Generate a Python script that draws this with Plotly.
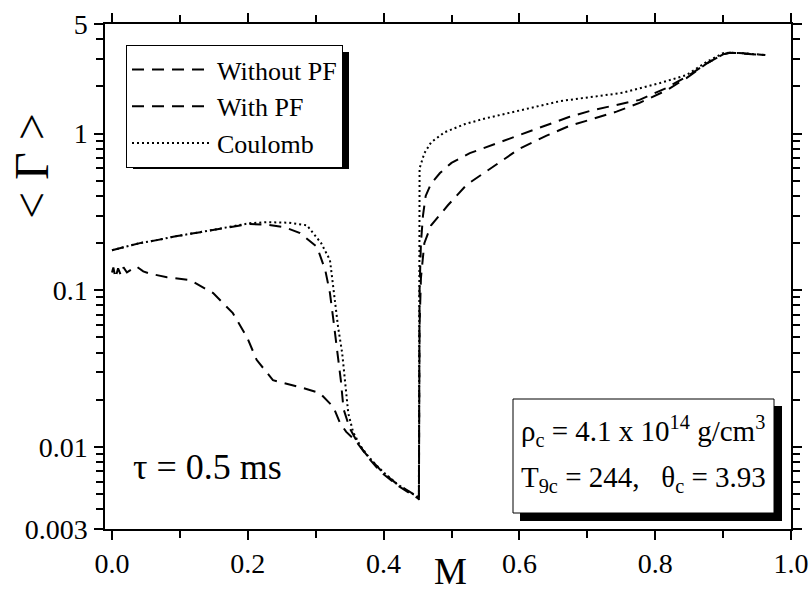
import plotly.graph_objects as go

# ---------------- data ----------------
# Series overlapping Coulomb at low M (upper dashed on the left)
x_without = [0.0, 0.016, 0.041, 0.066, 0.096, 0.13, 0.165, 0.203, 0.228, 0.255, 0.277, 0.302,
             0.314, 0.321, 0.326, 0.331, 0.337, 0.341, 0.35, 0.36, 0.37, 0.38, 0.39, 0.40, 0.42,
             0.44, 0.451, 0.452, 0.453, 0.455, 0.458, 0.462, 0.47, 0.483, 0.50, 0.527, 0.571,
             0.60, 0.674, 0.708, 0.777, 0.816, 0.85, 0.876, 0.90, 0.91, 0.93, 0.962]
y_without = [0.18, 0.188, 0.20, 0.209, 0.222, 0.235, 0.25, 0.265, 0.262, 0.252, 0.232, 0.189,
             0.135, 0.096, 0.065, 0.0435, 0.0267, 0.0175, 0.0132, 0.011, 0.0095, 0.0084, 0.0075,
             0.0068, 0.0058, 0.0051, 0.0048, 0.0047, 0.1, 0.2, 0.3, 0.4, 0.48, 0.56, 0.65, 0.75,
             0.88, 0.97, 1.28, 1.41, 1.64, 1.95, 2.36, 2.8, 3.2, 3.28, 3.25, 3.17]

# Series dropping early at low M (lower dashed on the left)
x_with = [0.0, 0.002, 0.005, 0.009, 0.013, 0.017, 0.022, 0.029, 0.036, 0.046, 0.055, 0.081,
          0.115, 0.149, 0.178, 0.199, 0.213, 0.237, 0.277, 0.306, 0.326, 0.336, 0.345, 0.36,
          0.37, 0.38, 0.39, 0.40, 0.42, 0.44, 0.451, 0.452, 0.453, 0.455, 0.46, 0.47, 0.495,
          0.522, 0.55, 0.60, 0.64, 0.674, 0.708, 0.743, 0.777, 0.816, 0.846, 0.876, 0.90,
          0.91, 0.93, 0.962]
y_with = [0.13, 0.14, 0.12, 0.138, 0.125, 0.14, 0.13, 0.136, 0.142, 0.132, 0.128, 0.121,
          0.116, 0.096, 0.0715, 0.050, 0.036, 0.0267, 0.0241, 0.0221, 0.018, 0.0142, 0.0125,
          0.0108, 0.0094, 0.0083, 0.0074, 0.0067, 0.0057, 0.005, 0.0047, 0.0046, 0.06, 0.12,
          0.2, 0.26, 0.35, 0.47, 0.57, 0.8, 0.97, 1.12, 1.24, 1.38, 1.57, 1.88, 2.26, 2.8,
          3.2, 3.28, 3.25, 3.17]

# Coulomb (dotted)
x_coul = [0.0, 0.016, 0.041, 0.066, 0.096, 0.13, 0.165, 0.203, 0.228, 0.26, 0.287, 0.296,
          0.308, 0.321, 0.328, 0.333, 0.339, 0.343, 0.348, 0.355, 0.365, 0.375, 0.385, 0.40,
          0.42, 0.44, 0.451, 0.452, 0.453, 0.46, 0.47, 0.49, 0.52, 0.55, 0.60, 0.66, 0.752,
          0.807, 0.846, 0.876, 0.90, 0.91, 0.93, 0.962]
y_coul = [0.18, 0.188, 0.20, 0.209, 0.222, 0.235, 0.25, 0.268, 0.272, 0.27, 0.26, 0.232,
          0.2, 0.156, 0.0866, 0.0582, 0.0398, 0.0267, 0.0164, 0.0125, 0.0103, 0.009, 0.008,
          0.0069, 0.0058, 0.0051, 0.0048, 0.0047, 0.6, 0.75, 0.88, 1.02, 1.15, 1.25, 1.4,
          1.61, 1.82, 2.1, 2.36, 2.87, 3.26, 3.28, 3.25, 3.17]

series_names = ["Without PF", "With PF", "Coulomb"]

x_tickvals = [0.0, 0.2, 0.4, 0.6, 0.8, 1.0]
x_ticktext = ["0.0", "0.2", "0.4", "0.6", "0.8", "1.0"]
y_tickvals = [0.003, 0.01, 0.1, 1, 5]
y_ticktext = ["0.003", "0.01", "0.1", "1", "5"]
y_minor = [0.004, 0.005, 0.006, 0.007, 0.008, 0.009,
           0.02, 0.03, 0.04, 0.05, 0.06, 0.07, 0.08, 0.09,
           0.2, 0.3, 0.4, 0.5, 0.6, 0.7, 0.8, 0.9,
           2, 3, 4]

FONT = "Liberation Serif"

fig = go.Figure()
fig.add_trace(go.Scatter(x=x_without, y=y_without, mode="lines", name=series_names[0],
                         line=dict(color="black", width=2, dash="12px,8px")))
fig.add_trace(go.Scatter(x=x_with, y=y_with, mode="lines", name=series_names[1],
                         line=dict(color="black", width=2, dash="12px,8px")))
fig.add_trace(go.Scatter(x=x_coul, y=y_coul, mode="lines", name=series_names[2],
                         line=dict(color="black", width=2, dash="2px,3px")))

axis_common = dict(showline=True, linecolor="black", linewidth=1.5, mirror="allticks",
                   ticks="outside", ticklen=9, tickwidth=1.5, tickcolor="black",
                   showgrid=False, zeroline=False, automargin=False,
                   tickfont=dict(family=FONT, size=28, color="black"))

fig.update_xaxes(range=[-0.0103, 1.0], tickvals=x_tickvals, ticktext=x_ticktext,
                 minor=dict(dtick=0.1, tick0=0, ticks="outside", ticklen=7, tickwidth=1.5,
                            tickcolor="black"),
                 **axis_common)
fig.update_yaxes(type="log", range=[-2.5229, 0.69897], tickvals=y_tickvals, ticktext=y_ticktext,
                 minor=dict(tickvals=y_minor, ticks="outside", ticklen=7, tickwidth=1.5,
                            tickcolor="black"),
                 ticklabelstandoff=1,
                 **axis_common)

L, R, T, B = 105, 19, 24, 66
pw, ph = 810 - L - R, 595 - T - B

def px_x(p):
    return (p - L) / pw

def px_y(p):
    return (595 - B - p) / ph

# axis titles
fig.add_annotation(xref="paper", yref="paper", x=px_x(450), y=px_y(594),
                   xanchor="center", yanchor="bottom", showarrow=False,
                   text="M", font=dict(family=FONT, size=37, color="black"))
fig.add_annotation(xref="paper", yref="paper", x=px_x(31), y=px_y(166),
                   xanchor="center", yanchor="middle", showarrow=False, textangle=-90,
                   text="< Γ >", font=dict(family=FONT, size=48, color="black"))

# legend with shadow
fig.update_layout(
    showlegend=True,
    legend=dict(x=px_x(126), y=px_y(45), xanchor="left", yanchor="top",
                bgcolor="white", bordercolor="black", borderwidth=1,
                font=dict(family=FONT, size=26, color="black"),
                itemwidth=80, tracegroupgap=0),
)
fig.add_shape(type="rect", xref="paper", yref="paper",
              x0=px_x(133), x1=px_x(349), y0=px_y(169), y1=px_y(52),
              fillcolor="black", line=dict(width=0), layer="above")

# parameter box with shadow
fig.add_shape(type="rect", xref="paper", yref="paper",
              x0=px_x(520), x1=px_x(782), y0=px_y(521), y1=px_y(406),
              fillcolor="black", line=dict(width=0), layer="above")
fig.add_shape(type="rect", xref="paper", yref="paper",
              x0=px_x(513), x1=px_x(774), y0=px_y(513), y1=px_y(399),
              fillcolor="white", line=dict(color="black", width=1), layer="above")
fig.add_annotation(xref="paper", yref="paper", x=px_x(519), y=px_y(431),
                   xanchor="left", yanchor="middle", showarrow=False, align="left",
                   text="ρ<sub>c</sub> = 4.1 x 10<sup>14</sup> g/cm<sup>3</sup>",
                   font=dict(family=FONT, size=29, color="black"))
fig.add_annotation(xref="paper", yref="paper", x=px_x(519), y=px_y(479),
                   xanchor="left", yanchor="middle", showarrow=False, align="left",
                   text="T<sub>9c</sub> = 244,\u00a0\u00a0 θ<sub>c</sub> = 3.93",
                   font=dict(family=FONT, size=29, color="black"))

fig.add_annotation(xref="paper", yref="paper", x=px_x(131), y=px_y(467),
                   xanchor="left", yanchor="middle", showarrow=False,
                   text="τ = 0.5 ms", font=dict(family=FONT, size=36, color="black"))

fig.update_layout(width=810, height=595,
                  margin=dict(l=L, r=R, t=T, b=B, autoexpand=False),
                  plot_bgcolor="white", paper_bgcolor="white",
                  font=dict(family=FONT, color="black"))

fig.write_html("out.html")
